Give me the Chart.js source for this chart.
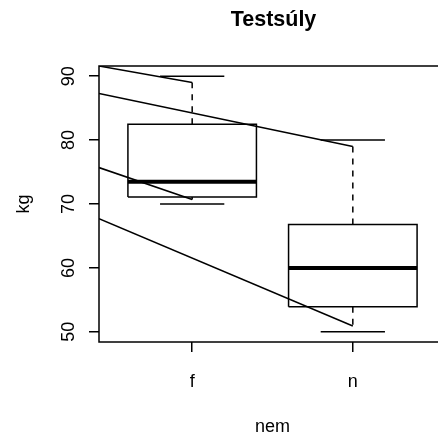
<!DOCTYPE html>
<html lang="hu">
<head>
<meta charset="UTF-8">
<title>Testsúly</title>
<script src="https://cdn.jsdelivr.net/npm/chart.js"></script>
<style>
  html, body { margin: 0; padding: 0; background: #fff; overflow: hidden; }
  .wrap { width: 460px; height: 439px; }
</style>
</head>
<body>
<div class="wrap"><canvas id="box"></canvas></div>
<script>
// weight by group
const groups = ['f', 'n'];
const q1 = [71.1, 53.9];
const medians = [73.5, 60.0];
const q3 = [82.5, 66.8];
const whiskerLow = [70.7, 50.9];
const whiskerHigh = [89.0, 79.0];
const capLow = [70, 50];
const capHigh = [90, 80];
const yTicks = [50, 60, 70, 80, 90];

// straight lines from the left frame edge to each whisker end
const lineStart = [91.6, 87.3, 75.7, 67.7];
const lineEndGroup = [0, 1, 0, 1];
const lineEndValue = [whiskerHigh[0], whiskerHigh[1], whiskerLow[0], whiskerLow[1]];

const X_MIN = 0.42, X_MAX = 2.58;
const BOX_HALF = 0.4, CAP_HALF = 0.2;
const FONT = "'Liberation Sans', Arial, Helvetica, sans-serif";

function seg(points, width, dash) {
  return {
    data: points,
    showLine: true,
    borderColor: '#000',
    borderWidth: width,
    borderDash: dash || [],
    pointRadius: 0,
    fill: false,
    tension: 0
  };
}

const datasets = [];
groups.forEach((g, i) => {
  const x = i + 1;
  datasets.push(seg([{x: x, y: q3[i]}, {x: x, y: whiskerHigh[i]}], 1.5, [6, 6]));
  datasets.push(seg([{x: x, y: q1[i]}, {x: x, y: whiskerLow[i]}], 1.5, [6, 6]));
  datasets.push(seg([{x: x - CAP_HALF, y: capHigh[i]}, {x: x + CAP_HALF, y: capHigh[i]}], 1.5));
  datasets.push(seg([{x: x - CAP_HALF, y: capLow[i]}, {x: x + CAP_HALF, y: capLow[i]}], 1.5));
  datasets.push(seg([
    {x: x - BOX_HALF, y: q1[i]}, {x: x + BOX_HALF, y: q1[i]},
    {x: x + BOX_HALF, y: q3[i]}, {x: x - BOX_HALF, y: q3[i]},
    {x: x - BOX_HALF, y: q1[i]}
  ], 1.5));
  datasets.push(seg([{x: x - BOX_HALF, y: medians[i]}, {x: x + BOX_HALF, y: medians[i]}], 4));
});
lineStart.forEach((v, k) => {
  datasets.push(seg([{x: X_MIN, y: v}, {x: lineEndGroup[k] + 1, y: lineEndValue[k]}], 1.5));
});

// plot frame and main title
const framePlugin = {
  id: 'frame',
  afterDraw(chart) {
    const {ctx, chartArea: a} = chart;
    ctx.save();
    ctx.strokeStyle = '#000';
    ctx.lineWidth = 1.5;
    ctx.strokeRect(a.left, a.top, a.right - a.left, a.bottom - a.top);
    ctx.fillStyle = '#000';
    ctx.font = 'bold 21.5px ' + FONT;
    ctx.textAlign = 'center';
    ctx.textBaseline = 'alphabetic';
    ctx.fillText('Testsúly', (a.left + a.right) / 2 + 1, 26);
    ctx.restore();
  }
};

new Chart(document.getElementById('box'), {
  type: 'scatter',
  data: { datasets: datasets },
  plugins: [framePlugin],
  options: {
    responsive: true,
    maintainAspectRatio: false,
    animation: false,
    layout: { padding: { top: 66, right: 14, left: 0, bottom: 0 } },
    plugins: { legend: { display: false }, tooltip: { enabled: false } },
    scales: {
      x: {
        type: 'linear',
        min: X_MIN,
        max: X_MAX,
        afterBuildTicks: s => { s.ticks = groups.map((g, i) => ({value: i + 1})); },
        afterFit: s => { s.height = 97; },
        border: { display: false },
        grid: { drawOnChartArea: false, drawTicks: true, tickLength: 10, color: '#000', lineWidth: 1.5 },
        ticks: {
          color: '#000',
          font: { family: FONT, size: 18 },
          padding: 19,
          maxRotation: 0,
          callback: v => groups[Math.round(v) - 1]
        },
        title: {
          display: true,
          text: 'nem',
          color: '#000',
          font: { family: FONT, size: 18 },
          padding: { top: 0, bottom: 1 }
        }
      },
      y: {
        min: 48.4,
        max: 91.6,
        afterBuildTicks: s => { s.ticks = yTicks.map(v => ({value: v})); },
        afterFit: s => { s.width = 99; },
        border: { display: false },
        grid: { drawOnChartArea: false, drawTicks: true, tickLength: 10, color: '#000', lineWidth: 1.5 },
        ticks: {
          color: '#000',
          font: { family: FONT, size: 18 },
          minRotation: 90,
          maxRotation: 90,
          crossAlign: 'center',
          padding: 10
        },
        title: {
          display: true,
          text: 'kg',
          color: '#000',
          font: { family: FONT, size: 18 },
          padding: { top: 13, bottom: 0 }
        }
      }
    }
  }
});
</script>
</body>
</html>
